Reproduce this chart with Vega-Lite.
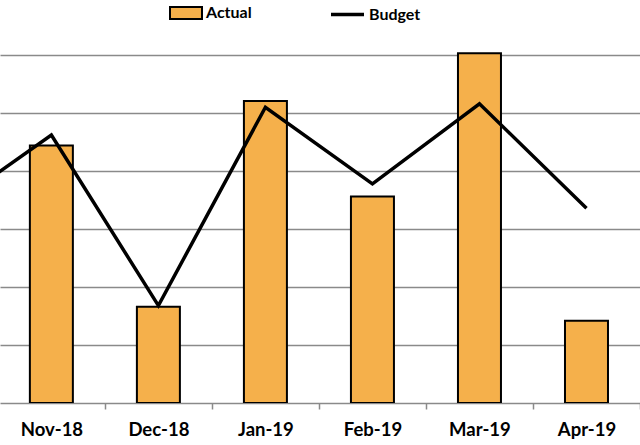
{
  "$schema": "https://vega.github.io/schema/vega-lite/v6.json",
  "width": 640,
  "height": 403,
  "autosize": "none",
  "padding": {"left": 0, "top": 0, "right": 0, "bottom": 42},
  "background": "white",
  "config": {"view": {"stroke": null}},
  "data": {
    "values": [
      {"month": "Oct-18", "n": -1, "actual": null, "budget": 33.2},
      {"month": "Nov-18", "n": 0, "actual": 44.4, "budget": 46.2},
      {"month": "Dec-18", "n": 1, "actual": 16.6, "budget": 16.8},
      {"month": "Jan-19", "n": 2, "actual": 52.1, "budget": 51.0},
      {"month": "Feb-19", "n": 3, "actual": 35.6, "budget": 37.8},
      {"month": "Mar-19", "n": 4, "actual": 60.3, "budget": 51.6},
      {"month": "Apr-19", "n": 5, "actual": 14.2, "budget": 33.6}
    ]
  },
  "layer": [
    {
      "mark": {"type": "bar", "width": 43, "stroke": "black", "strokeWidth": 2, "clip": true},
      "encoding": {
        "x": {"field": "n", "type": "quantitative", "scale": {"domain": [-0.48, 5.5], "nice": false, "zero": false, "padding": 0},
          "axis": {"title": null, "values": [0.5, 1.5, 2.5, 3.5, 4.5, 5.5], "labelExpr": "['Nov-18','Dec-18','Jan-19','Feb-19','Mar-19','Apr-19'][datum.value - 0.5]", "labelOffset": -53.5, "ticks": true, "tickColor": "#8a8a8a", "tickWidth": 1.5, "tickSize": 6, "domain": true, "domainColor": "#8a8a8a", "domainWidth": 1.5, "grid": false, "labelFont": "Lato", "labelFontWeight": "bold", "labelFontSize": 18.5, "labelColor": "black", "labelPadding": 11, "labelFlush": false, "labelBound": false, "labelOverlap": false}},
        "y": {"field": "actual", "type": "quantitative", "scale": {"domain": [0, 69.5], "nice": false, "zero": true},
          "axis": {"title": null, "values": [10, 20, 30, 40, 50, 60], "labels": false, "ticks": false, "domain": false, "grid": true, "gridColor": "#8a8a8a", "gridWidth": 1.5}},
        "fill": {"datum": "Actual", "type": "nominal", "scale": {"domain": ["Actual"], "range": ["#F5B04B"]},
          "legend": {"orient": "none", "legendX": 169, "legendY": -4, "title": null, "symbolType": "M-1,-0.375H1V0.375H-1Z", "symbolSize": 1024, "symbolStrokeColor": "black", "symbolStrokeWidth": 2, "symbolOpacity": 1, "labelFont": "Lato", "labelFontWeight": "bold", "labelFontSize": 16, "labelColor": "black", "labelOffset": 3}}
      }
    },
    {
      "mark": {"type": "line", "strokeWidth": 3.5, "clip": true, "strokeJoin": "miter"},
      "encoding": {
        "x": {"field": "n", "type": "quantitative"},
        "y": {"field": "budget", "type": "quantitative"},
        "stroke": {"datum": "Budget", "type": "nominal", "scale": {"domain": ["Budget"], "range": ["#000000"]},
          "legend": {"orient": "none", "legendX": 329, "legendY": -4, "title": null, "symbolType": "stroke", "symbolSize": 1089, "symbolStrokeWidth": 3.5, "labelFont": "Lato", "labelFontWeight": "bold", "labelFontSize": 16, "labelColor": "black", "labelOffset": 3}}
      }
    }
  ]
}
